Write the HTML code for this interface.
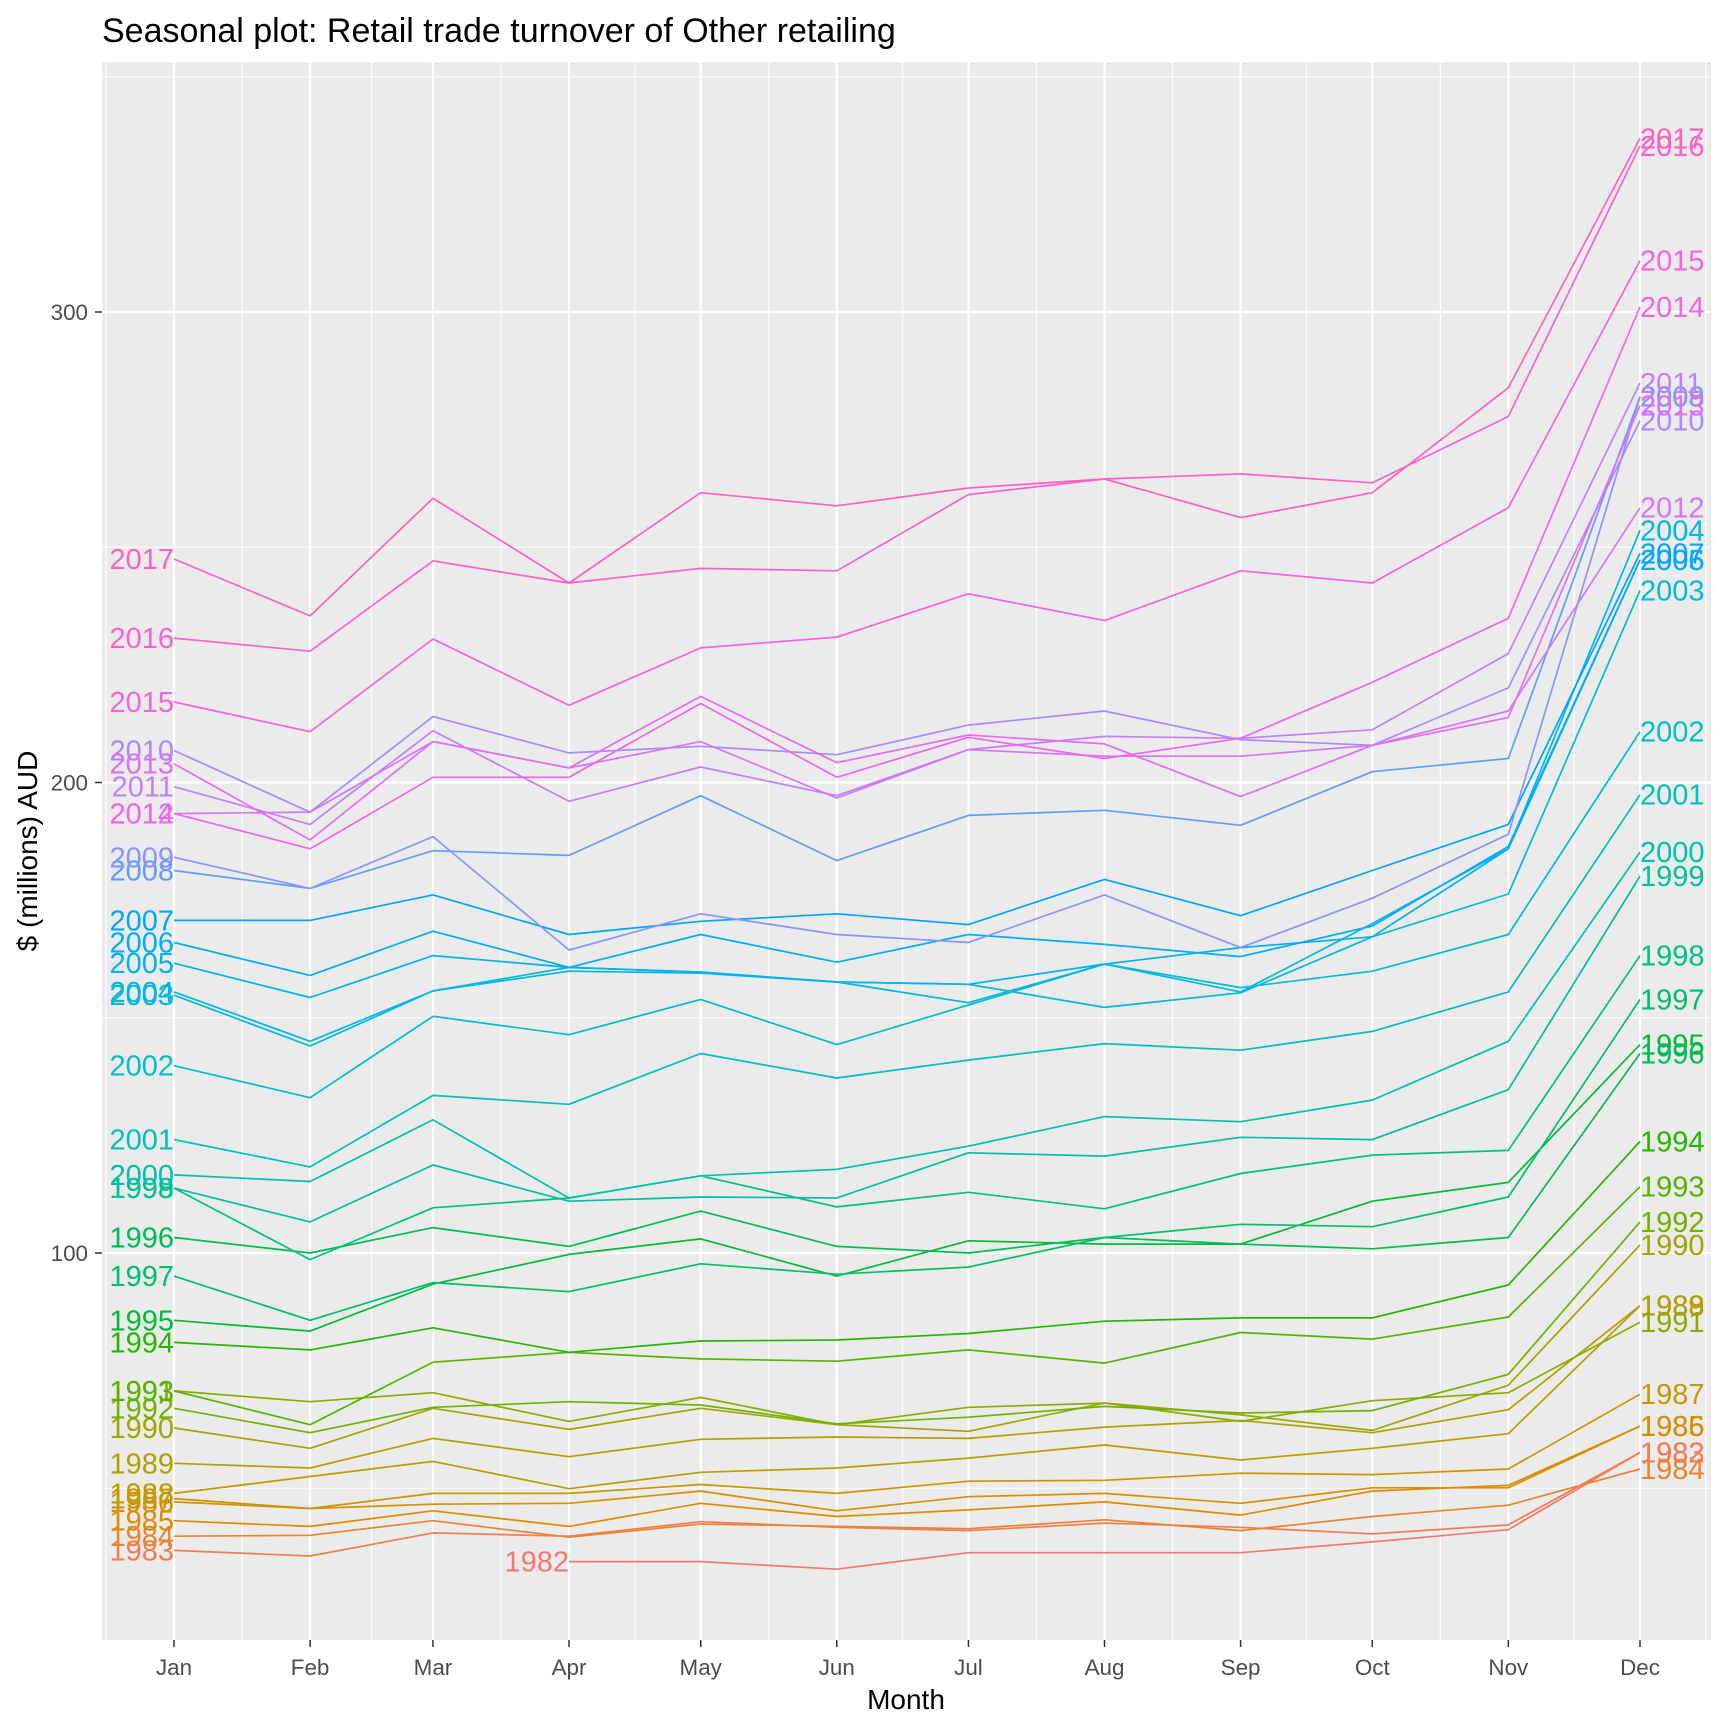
<!DOCTYPE html>
<html><head><meta charset="utf-8">
<style>
html,body{margin:0;padding:0;background:#fff;}
svg{display:block;font-family:"Liberation Sans",Arial,sans-serif;}
</style></head>
<body>
<svg id="chart" width="1728" height="1728" viewBox="0 0 1728 1728" xmlns="http://www.w3.org/2000/svg">
<rect x="0" y="0" width="1728" height="1728" fill="#ffffff"/>
<text x="102" y="42" font-size="34" fill="#000">Seasonal plot: Retail trade turnover of Other retailing</text>
<rect x="102" y="62" width="1609" height="1578" fill="#EBEBEB"/>
<g id="grid"></g>
<g id="lines"></g>
<g id="labels"></g>
<g id="axes"></g>
<text x="906" y="1709" font-size="28" text-anchor="middle" fill="#000">Month</text>
<text x="0" y="0" font-size="28" text-anchor="middle" fill="#000" transform="translate(37,851) rotate(-90)">$ (millions) AUD</text>
</svg>
<script>
const months = ["Jan","Feb","Mar","Apr","May","Jun","Jul","Aug","Sep","Oct","Nov","Dec"];
const monthStartDay = [0,31,59,90,120,151,181,212,243,273,304,334];
const yTicks = [100,200,300];
const yMinor = [50,150,250,350];
const years = [1982,1983,1984,1985,1986,1987,1988,1989,1990,1991,1992,1993,1994,1995,1996,1997,1998,1999,2000,2001,2002,2003,2004,2005,2006,2007,2008,2009,2010,2011,2012,2013,2014,2015,2016,2017];
const s1982 = [null,null,null,34.4,34.4,32.8,36.3,36.3,36.3,38.6,41.2,57.6];
const s1983 = [36.8,35.6,40.5,39.8,42.9,41.7,41.0,42.6,41.7,40.3,42.2,57.6];
const s1984 = [39.8,40.0,43.1,39.6,42.4,41.9,41.4,43.3,41.0,44.0,46.4,54.1];
const s1985 = [43.1,41.9,45.2,41.9,46.8,44.0,45.4,47.1,44.3,49.4,50.6,63.2];
const s1986 = [47.1,45.7,46.6,46.8,49.4,45.2,48.2,48.9,46.8,50.1,50.1,63.2];
const s1987 = [47.8,45.7,48.9,48.9,50.8,48.9,51.5,51.7,53.2,52.9,54.1,70.0];
const s1988 = [48.9,52.5,55.7,49.9,53.4,54.3,56.4,59.2,56.0,58.5,61.6,88.8];
const s1989 = [55.3,54.3,60.6,56.7,60.4,60.9,60.6,63.0,64.4,61.8,66.7,88.8];
const s1990 = [62.8,58.5,67.0,62.5,67.0,63.5,62.1,68.1,65.6,62.3,71.9,101.7];
const s1991 = [70.7,68.4,70.3,64.2,69.3,63.5,67.2,68.1,64.2,68.6,70.3,85.3];
const s1992 = [67.0,61.8,67.2,68.4,67.7,63.7,65.1,67.4,66.0,66.5,74.2,106.6];
const s1993 = [70.7,63.5,76.8,78.9,77.5,77.0,79.4,76.6,83.1,81.7,86.4,114.1];
const s1994 = [81.0,79.4,84.1,78.9,81.3,81.5,82.9,85.5,86.2,86.2,93.2,123.7];
const s1995 = [85.7,83.4,93.4,99.7,103.0,95.1,102.6,101.9,101.9,111.0,115.0,144.3];
const s1996 = [103.3,100.0,105.4,101.4,108.9,101.4,100.0,103.3,101.9,100.9,103.3,142.4];
const s1997 = [95.1,85.7,93.7,91.8,97.7,95.5,97.0,103.3,106.1,105.6,111.9,153.9];
const s1998 = [113.8,98.6,109.6,111.7,116.4,109.8,112.9,109.4,116.9,120.8,121.8,163.2];
const s1999 = [113.8,106.6,118.7,111.0,111.9,111.7,121.3,120.6,124.6,124.1,134.7,180.1];
const s2000 = [116.6,115.2,128.3,111.7,116.4,117.8,122.7,129.0,127.9,132.5,145.0,185.2];
const s2001 = [124.1,118.3,133.5,131.6,142.4,137.2,141.0,144.5,143.1,147.1,155.5,197.4];
const s2002 = [139.8,133.0,150.3,146.4,153.9,144.3,152.7,161.4,156.4,159.9,167.7,210.8];
const s2003 = [154.8,144.0,155.7,160.7,159.7,157.6,157.1,152.2,155.3,167.2,176.3,240.8];
const s2004 = [155.5,145.0,155.7,159.9,159.5,157.6,153.2,161.4,155.5,170.0,185.9,253.6];
const s2005 = [161.6,154.3,163.2,160.7,159.7,157.6,157.1,161.4,164.9,167.2,185.9,247.3];
const s2006 = [166.0,159.0,168.4,160.7,167.7,161.8,167.7,165.6,163.0,169.5,186.4,247.3];
const s2007 = [170.7,170.7,176.1,167.7,170.5,172.1,169.8,179.4,171.7,181.3,191.1,248.7];
const s2008 = [181.3,177.5,185.5,184.5,197.2,183.4,193.0,194.1,190.9,202.3,205.1,282.0];
const s2009 = [184.1,177.5,188.5,164.4,172.1,167.7,166.0,176.1,164.9,175.4,189.0,282.0];
const s2010 = [206.8,193.7,214.0,206.3,207.7,205.9,212.2,215.2,209.1,207.9,220.1,276.9];
const s2011 = [199.1,191.1,211.0,196.0,203.3,197.2,207.0,209.8,209.4,211.2,227.4,284.9];
const s2012 = [193.4,193.7,208.7,203.1,208.7,196.7,207.0,205.6,205.6,207.9,215.2,258.4];
const s2013 = [204.0,187.8,208.7,203.1,218.3,204.2,210.1,208.2,197.0,207.9,213.8,280.1];
const s2014 = [193.4,185.9,201.1,201.1,216.8,201.1,209.6,205.1,209.4,221.3,234.9,301.1];
const s2015 = [217.1,210.8,230.5,216.4,228.6,230.9,240.1,234.4,245.0,242.4,258.4,310.9];
const s2016 = [230.7,227.9,247.1,242.4,245.5,245.0,261.2,264.5,265.6,263.7,277.8,335.3];
const s2017 = [247.5,235.4,260.4,242.4,261.6,258.8,262.6,264.5,256.3,261.6,283.9,336.9];
const series = [s1982,s1983,s1984,s1985,s1986,s1987,s1988,s1989,s1990,s1991,s1992,s1993,s1994,s1995,s1996,s1997,s1998,s1999,s2000,s2001,s2002,s2003,s2004,s2005,s2006,s2007,s2008,s2009,s2010,s2011,s2012,s2013,s2014,s2015,s2016,s2017];

const NS = "http://www.w3.org/2000/svg";
const PX0 = 102, PX1 = 1711, PY0 = 62, PY1 = 1640;
const X_JAN = 174, X_DEC = 1640;
function xScale(day){ return X_JAN + day * (X_DEC - X_JAN) / 334; }
function xMonth(i){ return xScale(monthStartDay[i]); }
function yScale(v){ return 1253 - (v - 100) * 4.705; }

function hcl(h, c, l){
  const hr = h * Math.PI / 180;
  const U = c * Math.cos(hr), V = c * Math.sin(hr);
  const Xn = 95.047, Yn = 100, Zn = 108.883;
  const un = 4*Xn/(Xn+15*Yn+3*Zn), vn = 9*Yn/(Xn+15*Yn+3*Zn);
  const Y = Yn * Math.pow((l+16)/116, 3);
  const up = U/(13*l) + un, vp = V/(13*l) + vn;
  const X = 9*Y*up/(4*vp);
  const Z = Y*(12 - 3*up - 20*vp)/(4*vp);
  const x = X/100, y = Y/100, z = Z/100;
  let r = 3.2404542*x - 1.5371385*y - 0.4985314*z;
  let g = -0.9692660*x + 1.8760108*y + 0.0415560*z;
  let b = 0.0556434*x - 0.2040259*y + 1.0572252*z;
  const gam = t => { t = t <= 0.0031308 ? 12.92*t : 1.055*Math.pow(t, 1/2.4) - 0.055; return Math.round(Math.max(0, Math.min(1, t))*255); };
  return "rgb(" + gam(r) + "," + gam(g) + "," + gam(b) + ")";
}
function colorFor(i){ return hcl(15 + 360 * i / 39, 100, 65); }

function mk(tag, attrs, parent){
  const el = document.createElementNS(NS, tag);
  for (const k in attrs) el.setAttribute(k, attrs[k]);
  parent.appendChild(el);
  return el;
}

const grid = document.getElementById("grid");
for (let i = 0; i < months.length; i++) {
  let xm;
  if (i === 0) xm = xMonth(0) - (xMonth(1) - xMonth(0)) / 2;
  else xm = (xMonth(i-1) + xMonth(i)) / 2;
  const ln = mk("line", {x1: xm, x2: xm, y1: PY0, y2: PY1, stroke: "#fff", "stroke-width": 1.1}, grid);
  
  
}
{
  const xm = xMonth(11) + (xMonth(11) - xMonth(10)) / 2;
  const ln = mk("line", {x1: xm, x2: xm, y1: PY0, y2: PY1, stroke: "#fff", "stroke-width": 1.1}, grid);
  
  
}
for (const v of yMinor) {
  const ln = mk("line", {x1: PX0, x2: PX1, y1: yScale(v), y2: yScale(v), stroke: "#fff", "stroke-width": 1.1}, grid);
  
  
}
for (let i = 0; i < months.length; i++) {
  const ln = mk("line", {x1: xMonth(i), x2: xMonth(i), y1: PY0, y2: PY1, stroke: "#fff", "stroke-width": 2.2}, grid);
  
  
}
for (const v of yTicks) {
  const ln = mk("line", {x1: PX0, x2: PX1, y1: yScale(v), y2: yScale(v), stroke: "#fff", "stroke-width": 2.2}, grid);
  
  
}

const linesG = document.getElementById("lines");
const labelsG = document.getElementById("labels");
series.forEach((vals, k) => {
  const col = colorFor(k);
  const pts = [];
  vals.forEach((v, i) => { if (v !== null) pts.push(xMonth(i).toFixed(1) + "," + yScale(v).toFixed(1)); });
  const pl = mk("polyline", {points: pts.join(" "), fill: "none", stroke: col, "stroke-width": 1.7, "stroke-linejoin": "round"}, linesG);
  
  
  let first = vals.findIndex(v => v !== null);
  const tl = mk("text", {x: xMonth(first), y: yScale(vals[first]) + 10, "font-size": 29, "text-anchor": "end", fill: col}, labelsG);
  tl.textContent = years[k];
  
  
  const tr = mk("text", {x: xMonth(11), y: yScale(vals[11]) + 10, "font-size": 29, "text-anchor": "start", fill: col}, labelsG);
  tr.textContent = years[k];
  
  
});

const axes = document.getElementById("axes");
months.forEach((m, i) => {
  const x = xMonth(i);
  const tk = mk("line", {x1: x, x2: x, y1: PY1, y2: PY1 + 7, stroke: "#333", "stroke-width": 1.5}, axes);
  
  
  const t = mk("text", {x: x, y: 1675, "font-size": 22.4, "text-anchor": "middle", fill: "#4d4d4d"}, axes);
  t.textContent = m;
  
  
});
yTicks.forEach(v => {
  const y = yScale(v);
  const tk = mk("line", {x1: PX0 - 7, x2: PX0, y1: y, y2: y, stroke: "#333", "stroke-width": 1.5}, axes);
  
  
  const t = mk("text", {x: 88, y: y + 8, "font-size": 22.4, "text-anchor": "end", fill: "#4d4d4d"}, axes);
  t.textContent = v;
  
  
});
</script>
</body></html>
